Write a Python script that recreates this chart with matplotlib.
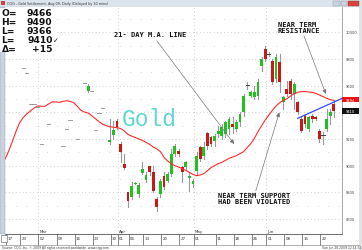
import matplotlib
matplotlib.use("Agg")
import matplotlib.pyplot as plt
from matplotlib.patches import Rectangle
from matplotlib.transforms import blended_transform_factory

W, H, DPI = 362, 251, 100

# ---------------- data ----------------
bar_index = [4, 5, 6, 7, 8, 9, 11, 15, 16, 17, 19, 21, 22, 23, 24, 25, 26,
             28, 29, 30, 31, 32, 33, 34, 35, 36, 37, 38, 39, 40, 41, 42, 43,
             44, 45, 46, 47, 48, 49, 50, 51, 52, 53, 54, 55, 56, 57, 58, 59,
             60, 61, 62, 63, 64, 65, 66, 67, 68, 69, 70, 71, 72, 73, 74, 75,
             76, 77, 78, 79, 80, 81, 82, 83, 84, 85, 86, 87, 88, 89, 90]
open_ = [9730, 9695, 9462, 9462, 9440, 9163, 9312, 9145, 9275, 9342, 9200, 9620, 9560, 9557, 9270, 9393, 9432,
         9175, 9230, 9337, 9162, 9012, 8800, 8763, 8865, 8788, 8945, 8895, 8995, 8950, 8750, 8787, 8925,
         8887, 8937, 9087, 9112, 8987, 8987, 8905, 8862, 8962, 9138, 9072, 9245, 9215, 9187, 9237, 9225,
         9237, 9275, 9316, 9275, 9325, 9400, 9603, 9525, 9512, 9520, 9750, 9875, 9837, 9787, 9650, 9775,
         9475, 9575, 9637, 9537, 9475, 9350, 9375, 9275, 9375, 9362, 9262, 9232, 9275, 9375, 9466]
high = [9730, 9695, 9462, 9462, 9440, 9163, 9312, 9145, 9275, 9342, 9200, 9620, 9610, 9557, 9270, 9393, 9432,
        9350, 9337, 9350, 9175, 9087, 8800, 8875, 8880, 8870, 9027, 8952, 9000, 9000, 8765, 8900, 8950,
        8950, 9125, 9162, 9125, 9000, 9037, 8950, 8900, 9102, 9150, 9177, 9252, 9225, 9237, 9295, 9312,
        9337, 9362, 9362, 9345, 9400, 9537, 9625, 9562, 9600, 9650, 9815, 9897, 9850, 9800, 9837, 9837,
        9525, 9637, 9650, 9625, 9487, 9375, 9387, 9375, 9387, 9370, 9275, 9250, 9425, 9425, 9490]
low = [9730, 9695, 9462, 9462, 9440, 9163, 9312, 9145, 9275, 9342, 9200, 9620, 9550, 9557, 9270, 9393, 9432,
       9162, 9200, 9275, 9025, 8975, 8687, 8750, 8860, 8765, 8937, 8877, 8930, 8800, 8662, 8765, 8825,
       8875, 8925, 9075, 9075, 8875, 8975, 8812, 8840, 8937, 9037, 9050, 9125, 9150, 9150, 9215, 9200,
       9215, 9237, 9245, 9262, 9300, 9375, 9575, 9512, 9500, 9500, 9712, 9785, 9825, 9612, 9625, 9550,
       9425, 9525, 9500, 9425, 9387, 9250, 9290, 9262, 9325, 9340, 9175, 9162, 9262, 9312, 9366]
close = [9730, 9695, 9462, 9462, 9440, 9163, 9312, 9145, 9275, 9342, 9200, 9620, 9597, 9557, 9270, 9393, 9432,
         9195, 9270, 9288, 9100, 8980, 8737, 8845, 8872, 8855, 8975, 8930, 8950, 8812, 8687, 8887, 8837,
         8937, 9087, 9150, 9087, 8950, 9025, 8925, 8887, 9069, 9050, 9140, 9148, 9162, 9225, 9262, 9287,
         9325, 9350, 9288, 9325, 9387, 9522, 9603, 9550, 9550, 9625, 9800, 9800, 9837, 9625, 9812, 9625,
         9512, 9537, 9537, 9612, 9400, 9262, 9312, 9362, 9350, 9350, 9200, 9232, 9350, 9400, 9410]

ma_index = list(range(-1, 91))
ma_values = [9050, 9110, 9180, 9255, 9320, 9360, 9388, 9410, 9432, 9448,
             9446, 9445, 9462, 9478, 9478, 9475, 9482, 9487, 9482, 9472,
             9445, 9415, 9402, 9395, 9375, 9352, 9330, 9312, 9300, 9292,
             9288, 9285, 9278, 9260, 9235, 9222, 9212, 9200, 9190, 9175,
             9160, 9140, 9125, 9105, 9062, 9035, 9015, 9000, 8990, 8978,
             8965, 8950, 8935, 8925, 8930, 8940, 8962, 8985, 9000, 9015,
             9025, 9040, 9055, 9065, 9075, 9090, 9105, 9135, 9165, 9205,
             9255, 9300, 9342, 9380, 9415, 9448, 9472, 9490, 9502, 9522,
             9540, 9550, 9555, 9556, 9553, 9550, 9542, 9530, 9518, 9505,
             9495, 9490]

trend_index = [80, 92.3]
trend_values = [9355, 9505]

price_ticks = [8600, 8800, 9000, 9200, 9400, 9600, 9800, 10000]
minor_ticks = [8700, 8900, 9100, 9300, 9500, 9700, 9900, 10100]
date_tick_index = [0, 4, 9, 14, 19, 24, 29, 31, 34, 38, 43, 48, 52, 58, 63, 68, 72, 77, 82, 87]
date_tick_labels = ["17", "23", "02", "09", "16", "23", "30", "01", "06", "13", "20", "27",
                    "01", "11", "18", "26", "01", "08", "15", "22"]
month_index = [9, 31, 52, 72]
month_labels = ["Mar", "Apr", "May", "Jun"]

ohlc_names = ["O=", "H=", "L=", "L=", "\u0394="]
ohlc_texts = ["9466", "9490", "9366", "9410\u2713", "+15"]
last_close = 9410
ma_last = 9494

# ---------------- figure ----------------
fig = plt.figure(figsize=(W / DPI, H / DPI), dpi=DPI)
fig.patch.set_facecolor("white")

def fx(px):
    return px / W

def fy(py):
    return 1 - py / H

ax_l, ax_r, ax_t, ax_b = 5, 342, 8, 235
ax = fig.add_axes([fx(ax_l), fy(ax_b), (ax_r - ax_l) / W, (ax_b - ax_t) / H])
ax.set_xlim(-1.02, 92.25)
ax.set_ylim(8487.5, 10190)
ax.set_facecolor("white")
for s in ["top", "left"]:
    ax.spines[s].set_visible(False)
ax.spines["right"].set_color("#9a9a9a")
ax.spines["right"].set_linewidth(0.6)
ax.spines["bottom"].set_color("#555555")
ax.spines["bottom"].set_linewidth(0.6)
ax.set_yticks([])

tick_off = 0.75
# grid
for p in price_ticks:
    ax.axhline(p, color="#a8a8a8", lw=0.5, ls=(0, (1, 4)), zorder=0)
for p in minor_ticks:
    ax.axhline(p, color="#b5b5b5", lw=0.5, ls=(0, (1, 14)), zorder=0)
for m in month_index:
    ax.axvline(m - tick_off, color="#a8a8a8", lw=0.5, ls=(0, (1, 4)), zorder=0)

# candles
bw = 0.78
for i, o, h, l, c in zip(bar_index, open_, high, low, close):
    if h == l:
        ax.plot([i - 0.45, i + 0.45], [c, c], color="#8a8a8a", lw=0.6, zorder=2)
        continue
    ax.plot([i, i], [l, h], color="#9a9a9a", lw=0.8, zorder=2)
    if o == c:
        ax.plot([i - 0.45, i + 0.45], [c, c], color="#444444", lw=0.7, zorder=3)
        continue
    col = "#22c022" if c > o else "#c81818"
    ax.add_patch(Rectangle((i - bw / 2, min(o, c)), bw, abs(c - o),
                           facecolor=col, edgecolor="none", zorder=3))

# moving average and trend line
ax.plot(ma_index, ma_values, color="#ff2b2b", lw=0.8, zorder=4)
ax.plot(trend_index, trend_values, color="#2f4cff", lw=0.9, zorder=4)

# x ticks / labels
ax.set_xticks([d - tick_off for d in date_tick_index])
ax.set_xticklabels([])
ax.tick_params(axis="x", length=8, width=0.5, color="#555555", direction="out")
xb = blended_transform_factory(ax.transData, ax.transAxes)
for d, lab in zip(date_tick_index, date_tick_labels):
    ax.text(d - tick_off + 0.35, -0.008, lab, transform=xb, fontsize=2.9,
            ha="left", va="top", color="#333333")
for m, lab in zip(month_index, month_labels):
    ax.text(m - tick_off + 0.35, 0.004, lab, transform=xb, fontsize=2.9,
            ha="left", va="bottom", color="#333333")

# right price labels
yb = blended_transform_factory(ax.transAxes, ax.transData)
box_vals = [(ma_last, "#ee1111"), (last_close, "#111111")]
for p in price_ticks:
    if any(abs(p - v) < 45 for v, _ in box_vals):
        continue
    ax.text(1.012, p, str(p), transform=yb, fontsize=2.6, ha="left",
            va="center", color="#444444", clip_on=False)
for val, col in box_vals:
    ax.add_patch(Rectangle((1.0, val - 20), 0.05, 40, transform=yb,
                           facecolor=col, edgecolor="none", clip_on=False, zorder=5))
    ax.text(1.026, val, str(val), transform=yb, fontsize=2.6, ha="center",
            va="center", color="white", clip_on=False, zorder=6)

# annotations
afont = dict(family="DejaVu Sans Mono", fontweight="bold", fontsize=5.0, color="#111111")
ax.text(29.1, 9984, "21- DAY M.A. LINE", ha="left", va="center", **afont)
ax.text(74.5, 10040, "NEAR TERM\nRESISTANCE", ha="left", va="center",
        linespacing=0.95, **afont)
ax.text(57.8, 8758, "NEAR TERM SUPPORT\nHAD BEEN VIOLATED", ha="left",
        va="center", linespacing=0.95, **afont)
arrow = dict(arrowstyle="-|>,head_length=0.25,head_width=0.12",
             color="#777777", lw=0.5, shrinkA=0, shrinkB=0)
ax.annotate("", xy=(62.4, 9162), xytext=(41.0, 9937), arrowprops=arrow)
ax.annotate("", xy=(87.8, 9537), xytext=(81.7, 9975), arrowprops=arrow)
ax.annotate("", xy=(74.9, 9400), xytext=(68.4, 8812), arrowprops=arrow)
ax.text(31.3, 9357, "Gold", ha="left", va="center", fontsize=16.5,
        family="Liberation Mono", color="#5fd6cf", zorder=6)

# ---------------- window chrome ----------------
def frect(x0, y0, x1, y1, **kw):
    fig.patches.append(Rectangle((fx(x0), fy(y1)), fx(x1) - fx(x0), fy(y0) - fy(y1),
                                 transform=fig.transFigure, figure=fig, **kw))

frect(0, 0, W, 8, facecolor="#dbe3ec", edgecolor="none")
frect(1, 1.5, 5, 5.5, facecolor="#d04040", edgecolor="none")
fig.text(fx(7), fy(3.8), "CQG - Gold Settlement, Aug 09, Daily (Delayed by 30 mins)",
         fontsize=2.4, color="#333333", va="center", ha="left")
frect(333, 1.5, 339.5, 7, facecolor="#c9d3de", edgecolor="#8b98a8", lw=0.3)
frect(340.5, 1.5, 347, 7, facecolor="#c9d3de", edgecolor="#8b98a8", lw=0.3)
frect(348, 1.5, 359, 7, facecolor="#d9453b", edgecolor="#9a3030", lw=0.3)
frect(0, 8, 4.5, 235, facecolor="#c9d2de", edgecolor="#8c97a6", lw=0.3)
frect(359, 8, W, H, facecolor="#dfe4ea", edgecolor="none")
frect(0.5, 236, 7, 243, facecolor="white", edgecolor="#555555", lw=0.4)
frect(0, 8.5, 57, 53, facecolor="white", edgecolor="none")
fig.lines.append(plt.Line2D([0, fx(359)], [fy(245.5), fy(245.5)], transform=fig.transFigure,
                            color="#777777", lw=0.4))

for k, (nm, tx) in enumerate(zip(ohlc_names, ohlc_texts)):
    yy = fy(13 + 9.2 * k)
    fig.text(fx(1.5), yy, nm, fontsize=6.6, fontweight="bold", color="#111111",
             va="center", ha="left")
    fig.text(fx(52.5), yy, tx.replace("\u2713", ""), fontsize=6.6, fontweight="bold",
             color="#111111", va="center", ha="right")
    if "\u2713" in tx:
        fig.text(fx(53), yy, "\u2713", fontsize=5, color="#111111", va="center", ha="left")

fig.text(fx(2), fy(248.5), "Source: CQG, Inc. \u00a9 2009 All rights reserved worldwide. www.cqg.com",
         fontsize=2.2, color="#333333", va="center", ha="left")
fig.text(fx(361), fy(248.5), "Sun Jun 28 2009 12:14:52", fontsize=2.2, color="#333333",
         va="center", ha="right")

fig.savefig("out.png", dpi=DPI, facecolor="white")
